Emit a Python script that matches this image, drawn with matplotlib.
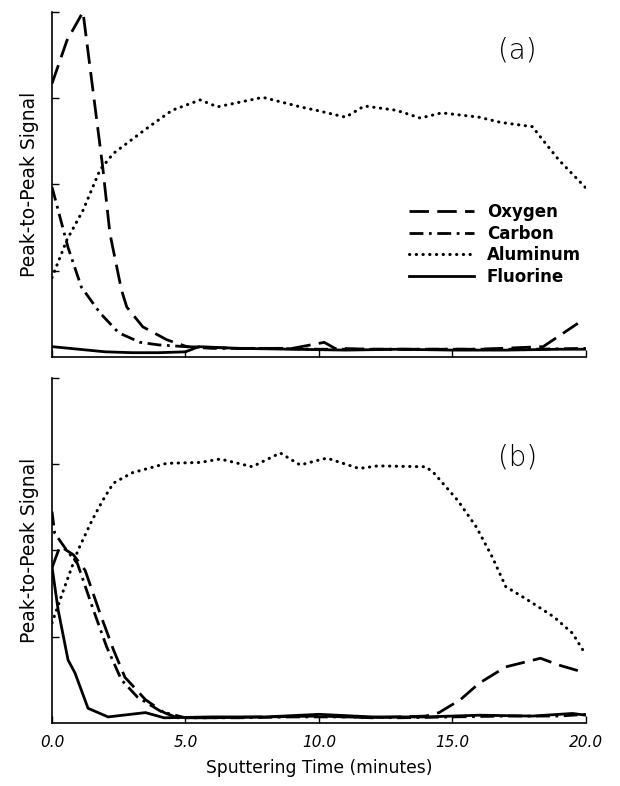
import matplotlib
matplotlib.use("Agg")
import matplotlib.pyplot as plt

# panel (a)
t_ox_a = [0, 0.56, 1.16, 1.9, 2.17, 2.6, 2.8, 3.4, 4.3, 5.05, 7, 9, 10.2, 10.6, 12, 14, 16, 18.4, 19.7]
ox_a = [3.17, 3.67, 4.0, 2.2, 1.43, 0.78, 0.58, 0.35, 0.2, 0.12, 0.1, 0.1, 0.17, 0.1, 0.09, 0.09, 0.09, 0.12, 0.39]
t_c_a = [0, 0.6, 1.1, 1.8, 2.5, 3.3, 4.0, 6, 8, 10, 12, 14, 16, 18, 20]
c_a = [1.97, 1.27, 0.81, 0.51, 0.28, 0.17, 0.14, 0.1, 0.1, 0.09, 0.09, 0.09, 0.09, 0.09, 0.1]
t_al_a = [0, 0.56, 1.16, 1.8, 2.3, 3.55, 4.5, 5.55, 6.2, 7.9, 9.3, 9.9, 11.0, 11.7,
          12.9, 13.8, 14.6, 16.0, 16.8, 18.0, 18.3, 19.0, 20.0]
al_a = [0.92, 1.36, 1.7, 2.17, 2.36, 2.65, 2.86, 2.98, 2.9, 3.01, 2.9, 2.86, 2.78, 2.91,
        2.86, 2.77, 2.83, 2.78, 2.72, 2.67, 2.55, 2.28, 1.96]
t_f_a = [0, 1, 2, 3, 4, 5, 5.5, 7, 9, 11, 13, 15, 17, 19, 20]
f_a = [0.12, 0.09, 0.06, 0.05, 0.05, 0.06, 0.12, 0.1, 0.09, 0.08, 0.09, 0.08, 0.08, 0.09, 0.09]

# panel (b)
t_ox_b = [0, 0.3, 0.8, 1.24, 1.8, 2.3, 2.73, 3.5, 4.2, 4.7, 6, 8, 10, 12, 14, 14.5,
          15.3, 16.0, 17.0, 18.3, 19.0, 20]
ox_b = [1.8, 2.05, 1.95, 1.77, 1.27, 0.85, 0.53, 0.27, 0.12, 0.06, 0.06, 0.07, 0.08,
        0.06, 0.08, 0.12, 0.27, 0.46, 0.65, 0.75, 0.67, 0.58]
t_c_b = [0, 0.1, 0.6, 0.95, 1.55, 2.05, 2.6, 3.2, 4.1, 5, 7, 9, 11, 13, 15, 17, 19, 20]
c_b = [2.45, 2.2, 1.98, 1.85, 1.31, 0.88, 0.5, 0.3, 0.13, 0.06, 0.06, 0.07, 0.07, 0.06,
       0.07, 0.08, 0.08, 0.1]
t_al_b = [0, 0.5, 0.97, 1.5, 1.9, 2.3, 3.0, 4.3, 5.55, 6.3, 7.5, 8.55, 9.3, 9.9, 10.3,
          11.5, 12.2, 14.0, 14.3, 15.2, 15.9, 16.5, 17.0, 17.8, 18.8, 19.5, 20.0]
al_b = [1.16, 1.6, 2.0, 2.35, 2.58, 2.78, 2.9, 3.01, 3.02, 3.06, 2.97, 3.13, 2.99, 3.04,
        3.07, 2.95, 2.98, 2.97, 2.9, 2.58, 2.27, 1.92, 1.58, 1.43, 1.23, 1.04, 0.79]
t_f_b = [0, 0.23, 0.6, 0.86, 1.35, 2.1, 3.5, 4.2, 6, 8, 10, 12, 14, 16, 18, 19.5, 20]
f_b = [1.81, 1.31, 0.73, 0.58, 0.17, 0.07, 0.12, 0.06, 0.07, 0.07, 0.1, 0.07, 0.07,
       0.09, 0.08, 0.11, 0.09]

xticks = [0, 5, 10, 15, 20]
xtick_labels = ["0.0", "5.0", "10.0", "15.0", "20.0"]
names = ["Oxygen", "Carbon", "Aluminum", "Fluorine"]

styles = {
    "Oxygen": dict(linestyle=(0, (7, 3)), lw=2.0),
    "Carbon": dict(linestyle=(0, (5, 2, 1, 2)), lw=2.0),
    "Aluminum": dict(linestyle=(0, (0.1, 2.1)), lw=2.2, dash_capstyle="round"),
    "Fluorine": dict(linestyle="-", lw=2.0),
}

fig = plt.figure(figsize=(6.2, 7.86), dpi=100)
ax_a = fig.add_axes([0.0839, 0.5458, 0.861, 0.439])
ax_b = fig.add_axes([0.0839, 0.0802, 0.861, 0.439])

panels = [
    (ax_a, [(t_ox_a, ox_a), (t_c_a, c_a), (t_al_a, al_a), (t_f_a, f_a)], "(a)", 3.55),
    (ax_b, [(t_ox_b, ox_b), (t_c_b, c_b), (t_al_b, al_b), (t_f_b, f_b)], "(b)", 3.08),
]

for ax, series, tag, ty in panels:
    for name, (t, v) in zip(names, series):
        ax.plot(t, v, color="black", label=name, **styles[name])
    ax.set_xlim(0, 20)
    ax.set_ylim(0, 4)
    ax.spines["top"].set_visible(False)
    ax.spines["right"].set_visible(False)
    ax.spines["left"].set_linewidth(1.2)
    ax.spines["bottom"].set_linewidth(1.2)
    ax.set_yticks([1, 2, 3, 4])
    ax.set_yticklabels([])
    ax.tick_params(axis="y", direction="in", length=5, width=1)
    ax.set_xticks(xticks)
    ax.tick_params(axis="x", direction="in", length=5, width=1)
    ax.set_ylabel("Peak-to-Peak Signal", fontsize=13.5, labelpad=6)
    ax.text(17.45, ty, tag, fontsize=20, fontweight="light", ha="center", va="center")

ax_a.set_xticklabels([])
ax_b.set_xticklabels(xtick_labels, fontsize=11, style="italic")
ax_b.tick_params(axis="x", pad=9)
ax_b.set_xlabel("Sputtering Time (minutes)", fontsize=12.3, labelpad=6)

leg = ax_a.legend(loc="upper left", bbox_to_anchor=(0.64, 0.49), frameon=False,
                  handlelength=3.9, handletextpad=0.8, labelspacing=0.22,
                  prop=dict(size=12, weight="bold"))

fig.savefig("out.png", dpi=100)
